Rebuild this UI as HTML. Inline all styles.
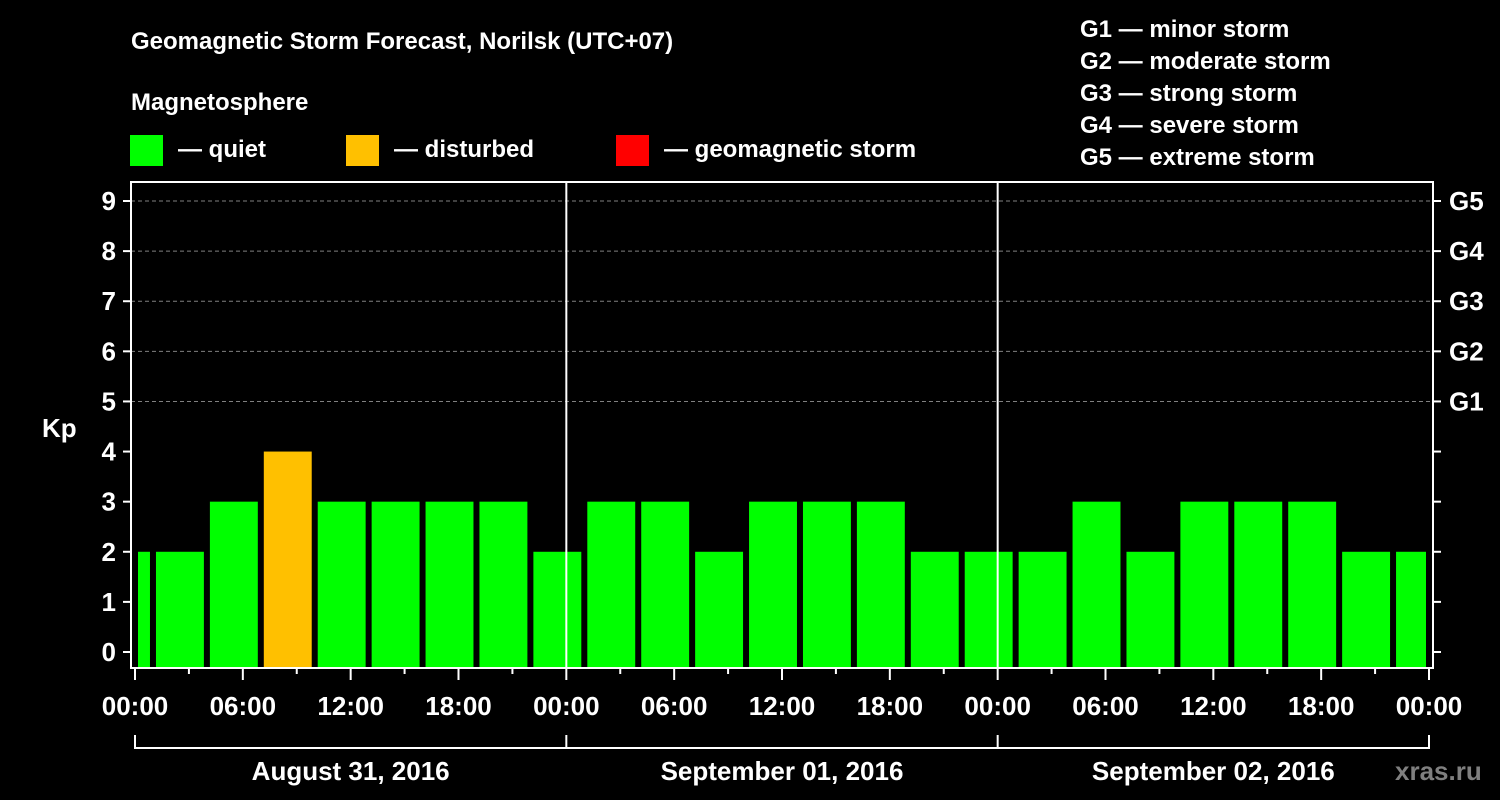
<!DOCTYPE html>
<html><head><meta charset="utf-8"><style>
html,body{margin:0;padding:0;background:#000;}
svg{display:block;font-family:"Liberation Sans",Arial,sans-serif;font-weight:bold;}
</style></head><body>
<svg id="chart" width="1500" height="800" viewBox="0 0 1500 800" xmlns="http://www.w3.org/2000/svg">
<rect width="1500" height="800" fill="#000"/>
<text x="131" y="49" fill="#fff" font-size="24">Geomagnetic Storm Forecast, Norilsk (UTC+07)</text>
<text x="131" y="110" fill="#fff" font-size="24">Magnetosphere</text>
<g><rect x="130" y="135" width="33" height="31" fill="#00ff00"/><text x="178" y="157" fill="#fff" font-size="24">— quiet</text></g>
<g><rect x="346" y="135" width="33" height="31" fill="#ffc000"/><text x="394" y="157" fill="#fff" font-size="24">— disturbed</text></g>
<g><rect x="616" y="135" width="33" height="31" fill="#ff0000"/><text x="664" y="157" fill="#fff" font-size="24">— geomagnetic storm</text></g>
<g fill="#fff" font-size="24">
<text x="1080" y="37">G1 — minor storm</text>
<text x="1080" y="69">G2 — moderate storm</text>
<text x="1080" y="101">G3 — strong storm</text>
<text x="1080" y="133">G4 — severe storm</text>
<text x="1080" y="165">G5 — extreme storm</text>
</g>
<g id="grid"></g>
<g id="bars"></g>
<g id="axes"></g>
<text x="42" y="437" fill="#fff" font-size="26">Kp</text>
<text x="1395" y="780" fill="#7f7f7f" font-size="26">xras.ru</text>
</svg>
<script>
const kpValues = [2,2,3,4,3,3,3,3,2,3,3,2,3,3,3,2,2,2,3,2,3,3,3,2,2];
const barStartHours = [0,1,4,7,10,13,16,19,22,25,28,31,34,37,40,43,46,49,52,55,58,61,64,67,70];
const yTicks = [0,1,2,3,4,5,6,7,8,9];
const gLabels = ["G1","G2","G3","G4","G5"];
const xTickLabels = ["00:00","06:00","12:00","18:00","00:00","06:00","12:00","18:00","00:00","06:00","12:00","18:00","00:00"];
const dayLabels = ["August 31, 2016","September 01, 2016","September 02, 2016"];

const NS="http://www.w3.org/2000/svg";
const X0=135, X1=1429, HOURS=72, PL=131, PR=1433, PT=182, PB=668;
const xs=h=>X0+(X1-X0)*h/HOURS;
const ys=v=>652-(652-201)*v/9;
function mk(tag,attrs,parent){const e=document.createElementNS(NS,tag);for(const k in attrs)e.setAttribute(k,attrs[k]);parent.appendChild(e);return e;}
const grid=document.getElementById('grid'),bars=document.getElementById('bars'),axes=document.getElementById('axes');

for(let v=5;v<=9;v++){
  const l=mk('line',{x1:PL,x2:PR,y1:ys(v),y2:ys(v),stroke:'#808080','stroke-width':1,'stroke-dasharray':'4,3'},grid);
  
  
}
kpValues.forEach((v,i)=>{
  const s=barStartHours[i], e=Math.min(HOURS, (i===0?1:s+3));
  const x1=xs(s)+3, x2=xs(e)-3;
  const c=v>=5?'#ff0000':(v>=4?'#ffc000':'#00ff00');
  const r=mk('rect',{x:x1,y:ys(v),width:x2-x1,height:PB-1-ys(v),fill:c},bars);
  
  
});
// frame
const fr=mk('rect',{x:PL,y:PT,width:PR-PL,height:PB-PT,fill:'none',stroke:'#fff','stroke-width':2},axes);


[24,48].forEach(h=>{const l=mk('line',{x1:xs(h),x2:xs(h),y1:PT,y2:PB,stroke:'#fff','stroke-width':2},axes);
  
  });
yTicks.forEach(v=>{
  mk('line',{x1:123,x2:PL,y1:ys(v),y2:ys(v),stroke:'#fff','stroke-width':2},axes);
  mk('line',{x1:PR,x2:PR+8,y1:ys(v),y2:ys(v),stroke:'#fff','stroke-width':2},axes);
  const t=mk('text',{x:116,y:ys(v)+9,fill:'#fff','font-size':26,'text-anchor':'end'},axes);
  t.textContent=v;
  
  
});
gLabels.forEach((g,i)=>{
  const t=mk('text',{x:1449,y:ys(5+i)+9,fill:'#fff','font-size':26},axes);
  t.textContent=g;
  
  
});
for(let h=0;h<=HOURS;h+=3){
  const long=h%6===0;
  mk('line',{x1:xs(h),x2:xs(h),y1:PB,y2:PB+(long?12:6),stroke:'#fff','stroke-width':2},axes);
}
xTickLabels.forEach((s,i)=>{
  const t=mk('text',{x:xs(i*6),y:715,fill:'#fff','font-size':26,'text-anchor':'middle'},axes);
  t.textContent=s;
  
  
});
mk('line',{x1:X0,x2:X1,y1:748,y2:748,stroke:'#fff','stroke-width':2},axes);
[0,24,48,72].forEach(h=>mk('line',{x1:xs(h),x2:xs(h),y1:735,y2:749,stroke:'#fff','stroke-width':2},axes));
dayLabels.forEach((d,i)=>{
  const t=mk('text',{x:xs(i*24+12),y:780,fill:'#fff','font-size':26,'text-anchor':'middle'},axes);
  t.textContent=d;
  
  
});
</script>
</body></html>
